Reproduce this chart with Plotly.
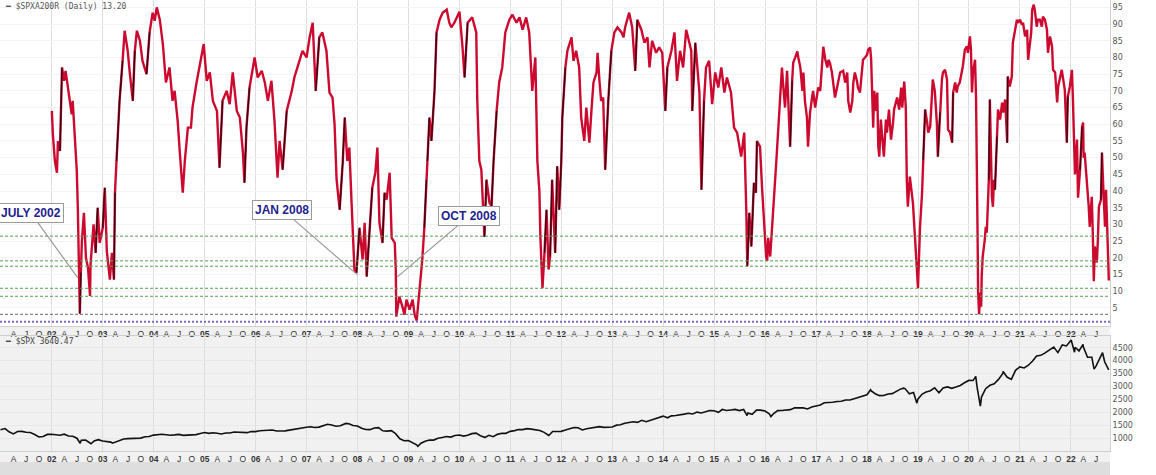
import plotly.graph_objects as go
from plotly.subplots import make_subplots
import pandas as pd

# ---------------- DATA ----------------
# $SPXA200R (percent of S&P 500 stocks above 200-day MA), time in decimal years
spxa_t = [
 2002.00,2002.02,2002.06,2002.10,2002.12,2002.16,2002.20,2002.24,2002.27,2002.31,2002.35,2002.39,2002.41,2002.45,2002.49,
 2002.51,2002.53,2002.55,2002.57,2002.59,2002.63,2002.67,2002.71,2002.75,2002.76,2002.80,2002.82,2002.86,2002.90,2002.94,
 2003.00,2003.04,2003.08,2003.14,2003.18,2003.22,2003.24,2003.27,2003.33,2003.39,2003.43,2003.47,2003.49,2003.53,2003.59,
 2003.63,2003.67,2003.73,2003.78,2003.86,2003.92,2003.98,
 2004.02,2004.06,2004.12,2004.18,2004.24,2004.31,2004.37,2004.41,2004.47,2004.51,2004.57,2004.61,2004.67,2004.73,2004.76,
 2004.84,2004.90,2004.98,
 2005.04,2005.10,2005.16,2005.24,2005.29,2005.35,2005.43,2005.49,2005.55,2005.63,2005.69,2005.75,2005.78,2005.82,2005.88,2005.98,
 2006.04,2006.12,2006.18,2006.24,2006.31,2006.37,2006.43,2006.47,2006.53,2006.61,2006.71,2006.76,2006.86,2006.92,
 2007.00,2007.06,2007.12,2007.18,2007.25,2007.31,2007.39,2007.45,2007.51,2007.55,2007.59,2007.65,2007.71,2007.75,2007.80,
 2007.84,2007.88,2007.94,2007.98,
 2008.04,2008.10,2008.14,2008.18,2008.24,2008.29,2008.35,2008.39,2008.43,2008.49,2008.53,2008.57,2008.63,2008.67,2008.73,
 2008.75,2008.76,2008.82,2008.88,2008.92,2008.96,
 2009.02,2009.08,2009.12,2009.16,2009.22,2009.27,2009.31,2009.35,2009.37,2009.41,2009.45,2009.51,2009.55,2009.61,2009.67,
 2009.75,2009.80,2009.84,2009.90,
 2010.00,2010.06,2010.10,2010.16,2010.25,2010.33,2010.35,2010.39,2010.43,2010.49,2010.53,2010.59,2010.63,2010.67,2010.73,
 2010.78,2010.84,2010.90,2010.98,
 2011.04,2011.12,2011.18,2011.24,2011.31,2011.37,2011.43,2011.49,2011.53,2011.57,2011.59,2011.63,2011.67,2011.71,2011.75,
 2011.78,2011.82,2011.88,2011.92,2011.96,
 2012.00,2012.02,2012.08,2012.12,2012.20,2012.24,2012.29,2012.35,2012.39,2012.45,2012.49,2012.55,2012.59,2012.63,2012.69,
 2012.71,2012.75,2012.78,2012.82,2012.86,2012.92,2012.98,
 2013.04,2013.10,2013.18,2013.22,2013.25,2013.33,2013.39,2013.45,2013.49,2013.57,2013.63,2013.69,2013.73,2013.78,2013.86,
 2013.92,2013.98,
 2014.04,2014.08,2014.16,2014.22,2014.27,2014.33,2014.39,2014.45,2014.51,2014.55,2014.57,2014.63,2014.71,2014.75,2014.80,
 2014.84,2014.90,2014.96,
 2015.02,2015.08,2015.14,2015.20,2015.25,2015.33,2015.39,2015.45,2015.53,2015.59,2015.63,2015.65,2015.69,2015.73,2015.78,
 2015.82,2015.84,2015.90,2015.94,
 2016.02,2016.04,2016.06,2016.10,2016.14,2016.18,2016.22,2016.25,2016.29,2016.33,2016.35,2016.39,2016.43,2016.45,2016.49,
 2016.53,2016.55,2016.59,2016.63,2016.65,2016.69,2016.73,2016.75,2016.78,2016.82,2016.84,2016.88,2016.92,2016.94,2016.98,
 2017.02,2017.04,2017.08,2017.12,2017.14,2017.18,2017.22,2017.24,2017.27,2017.31,2017.33,2017.37,2017.41,2017.47,2017.53,
 2017.57,2017.61,2017.63,2017.67,2017.71,2017.73,2017.76,2017.80,2017.82,2017.86,2017.90,2017.92,2017.96,
 2018.00,2018.02,2018.06,2018.08,2018.10,2018.12,2018.14,2018.18,2018.20,2018.22,2018.24,2018.27,2018.29,2018.33,2018.37,
 2018.39,2018.43,2018.47,2018.51,2018.53,2018.59,2018.63,2018.67,2018.69,2018.73,2018.76,2018.78,2018.80,2018.84,2018.88,
 2018.90,2018.94,2018.98,
 2019.00,2019.02,2019.04,2019.08,2019.10,2019.14,2019.18,2019.20,2019.24,2019.27,2019.29,2019.33,2019.37,2019.39,2019.43,
 2019.47,2019.49,2019.53,2019.57,2019.59,2019.63,2019.67,2019.69,2019.73,2019.76,2019.78,2019.82,2019.86,2019.88,2019.92,
 2019.96,2019.98,
 2020.02,2020.04,2020.06,2020.08,2020.12,2020.14,2020.16,2020.17,2020.18,2020.20,2020.22,2020.24,2020.25,2020.27,2020.31,
 2020.33,2020.35,2020.37,2020.39,2020.41,2020.43,2020.45,2020.47,2020.49,2020.51,2020.55,2020.57,2020.61,2020.65,2020.67,
 2020.71,2020.75,2020.76,2020.80,2020.84,2020.86,2020.90,2020.94,2020.96,
 2021.00,2021.04,2021.06,2021.10,2021.14,2021.16,2021.18,2021.22,2021.24,2021.27,2021.29,2021.33,2021.35,2021.39,2021.43,
 2021.45,2021.49,2021.53,2021.55,2021.59,2021.63,2021.65,2021.69,2021.73,2021.75,2021.78,2021.82,2021.84,2021.88,2021.92,
 2021.94,2021.98,
 2022.02,2022.04,2022.06,2022.08,2022.12,2022.14,2022.18,2022.22,2022.24,2022.25,2022.27,2022.31,2022.35,2022.37,2022.41,
 2022.43,2022.45,2022.47,2022.51,2022.53,2022.55,2022.59,2022.61,2022.63,2022.67,2022.69,2022.71,2022.73,2022.745]
spxa_v = [
 64,57,49,45.5,55,52,77,73,76,72,67,63,67,58,46,
 35,20,3.3,15.6,25,33.5,20,17,8.6,18,26,30,21.5,35,24.5,
 29,41,22,13.5,21.5,13.5,39.5,49,67,79,88,84,82,75.5,67,
 82,88,85,79,75,87.5,93.4,
 91,95,91.3,84,72.5,77,67,70,61,52,39.5,49,59,59,65,
 72.5,78,84,
 73,75.5,67,64,47,67,70,66,75.5,64,62,51.5,42.5,59,71,80,
 74,76,72.5,67,73,61,44,55,46.4,64,70,74,79,82,
 80,86,90.4,70,86,87.5,82,69.5,68,60,43.4,34.4,48.5,62,49,
 53,38,16.5,15.6,
 29,19.5,30.5,14.4,29,41,45.5,53,30.5,24.5,39.5,37.4,45.5,26,24.5,
 16.5,2.4,8.4,5.4,3,7.5,
 4.5,7.5,3,1.2,11.4,19.5,29,43.4,49,62,55,70,87.5,91.3,93.4,
 94.3,90.4,89,90.4,
 93.7,83,74,90.4,92,87.5,67,49,46.4,26.3,43.4,36.5,35.5,49,64,
 72.5,77,87.5,91.3,
 92.8,90.4,92,88.3,92,87.5,70,80,49,40,26,10.9,21.5,34.4,16.5,
 20.4,43.4,21.5,47.4,34.4,
 49,62,77,82,86,79,82,77,62,55,65,54.5,64,72.5,75.5,
 81.4,72.5,67,68,46.4,67,82,
 87.5,89,87.5,86,89,93.4,89,76,91.3,88.3,84.4,86,77,85,81.4,
 83,81.4,
 64,77,82,87.5,73,82,77,88.3,85,82,64,84.4,69.5,40.4,67,
 77,79,66,
 75.5,71,77,69.5,74,69.5,59,57.5,50.3,57.5,34.4,17.5,33.5,23.4,42.5,
 39.5,55,53.3,41,
 20.4,19.1,26,20.4,31.4,39.5,49,57.5,67,77,72.5,65,76,68,53.3,
 73,78.4,80,81.8,80,77,70,75.5,67,62,53.3,63.5,68,70,65,
 70,71,70,79.3,83.2,79.3,77,79.3,78.4,75.5,73,68,71,75.5,76,
 72.5,75.5,67,63.5,67,72.5,75.5,73,71,69.5,77,79.3,80,
 80.8,82.3,83,79.3,67,59,70,64,69.5,53.3,50.3,61.4,57.5,50.3,61.4,
 57.5,64.4,55.4,60.5,64.4,68,64.4,71,65,72.8,65,43.4,35.3,44.3,39.5,
 36.5,26.3,14.4,
 10.9,20.4,29.3,39.5,49.4,64.4,60.5,57.5,59.3,71,73.4,70,60.5,50.3,63.5,
 73.4,75.5,76.3,73.4,58.4,57.5,54.5,69.5,72.5,69.5,71.3,72.5,75.5,77.3,82.3,
 83.3,81.4,
 86.3,82.3,69.5,75.5,79.3,67.4,47.4,26.3,9.6,3.1,9.6,5.4,14.4,20.4,25.4,
 29.3,27.5,34.4,43.4,67.4,49.4,38.3,35.3,43.4,40.4,56.3,64.4,61.4,66.5,63.5,
 67.4,54.5,74.3,71.3,74.3,84.4,88.3,91.3,90.4,
 91.3,89.8,90.4,86.3,88.3,79.3,82.3,87.4,94.3,95.8,94.3,89.2,91.3,91.3,89.2,
 92.2,91.3,88.3,81.4,86.3,83.3,76.3,75.5,66.5,71.3,73.4,76.3,74.3,70.4,54.5,
 68.3,71.3,
 76.3,67.4,52.4,45,55.4,38,46.4,59.3,60.5,50,51.5,44.3,35.3,29.3,38.3,
 27.5,13,23.4,18.6,25.4,35.3,37.4,51.5,43.4,29.3,40.4,29.3,15.6,13.2]

# Reference lows marked with horizontal lines
green_levels = [26.5, 19.1, 17.5, 10.9, 8.5]
gray_level = 3.1
purple_level = 0.9

# $SPX month-end closes, Jan 2001 .. Aug 2022
spx_monthly = [
 1366,1240,1160,1249,1256,1224,1211,1134,1041,1060,1139,1148,
 1130,1107,1147,1077,1067,990,912,916,815,886,936,880,
 856,841,848,917,964,975,990,1008,996,1051,1058,1112,
 1131,1145,1126,1107,1121,1141,1102,1104,1115,1130,1174,1212,
 1181,1204,1181,1157,1192,1191,1234,1220,1229,1207,1249,1248,
 1280,1281,1295,1311,1270,1270,1277,1304,1336,1378,1401,1418,
 1438,1407,1421,1482,1531,1503,1455,1474,1527,1549,1481,1468,
 1379,1331,1323,1386,1400,1280,1267,1283,1166,969,896,903,
 826,735,798,873,919,919,987,1021,1057,1036,1096,1115,
 1074,1104,1169,1187,1089,1031,1102,1049,1141,1183,1181,1258,
 1286,1327,1326,1364,1345,1321,1292,1219,1131,1253,1247,1258,
 1312,1366,1408,1398,1310,1362,1379,1407,1441,1412,1416,1426,
 1498,1515,1569,1598,1631,1606,1686,1633,1682,1757,1806,1848,
 1783,1859,1872,1884,1924,1960,1931,2003,1972,2018,2068,2059,
 1995,2105,2068,2086,2107,2063,2104,1972,1920,2079,2080,2044,
 1940,1932,2060,2065,2097,2099,2174,2171,2168,2126,2199,2239,
 2279,2364,2363,2384,2412,2423,2470,2472,2519,2575,2648,2674,
 2824,2714,2641,2648,2705,2718,2816,2902,2914,2712,2760,2507,
 2704,2784,2834,2946,2752,2942,2980,2926,2977,3038,3141,3231,
 3226,2954,2585,2912,3044,3100,3271,3500,3363,3270,3622,3756,
 3714,3811,3973,4181,4204,4298,4395,4523,4308,4605,4567,4766,
 4516,4374,4530,4132,4132,3785,4130,3955]
spx_extra_dates = ['2000-12-29','2002-07-23','2002-10-09','2003-03-11','2007-10-09','2009-03-09',
                   '2010-07-02','2011-10-03','2015-08-25','2016-02-11','2018-01-26','2018-09-20',
                   '2018-12-24','2020-02-19','2020-03-23','2020-09-02','2022-01-03','2022-01-27',
                   '2022-03-29','2022-06-16','2022-08-16','2022-09-29']
spx_extra_vals = [1320,797,777,800,1565,677,1022,1099,1867,1829,2873,2931,
                  2351,3386,2237,3580,4797,4326,4631,3667,4305,3640.47]

annot_text = ['JULY 2002', 'JAN 2008', 'OCT 2008']
annot_x = [2002.51, 2008.00, 2008.78]
annot_y = [14.0, 14.9, 14.3]

# ---------------- HELPERS ----------------
def dec2date(t):
    y = int(t)
    a = pd.Timestamp(year=y, month=1, day=1)
    b = pd.Timestamp(year=y + 1, month=1, day=1)
    return a + (b - a) * (t - y)

spxa_d = [dec2date(t) for t in spxa_t]

spx_df = pd.DataFrame({
    'd': list(pd.date_range('2001-01-31', periods=len(spx_monthly), freq='ME')) + list(pd.to_datetime(spx_extra_dates)),
    'v': spx_monthly + spx_extra_vals}).sort_values('d')

RED = '#cc0a30'

fig = make_subplots(rows=2, cols=1, shared_xaxes=False, vertical_spacing=0.0)

# background shapes first (so hlines added later are kept)
fig.update_layout(shapes=[
    dict(type='rect', xref='paper', yref='paper', x0=0, x1=1, y0=0, y1=1 - 462 / 475,
         fillcolor='#dedede', line=dict(width=0), layer='below'),
    dict(type='rect', xref='paper', yref='paper', x0=0, x1=1, y0=1 - 462 / 475, y1=1 - 326 / 475,
         fillcolor='#f1f1f1', line=dict(width=0), layer='below')])

fig.add_trace(go.Scatter(x=spxa_d, y=spxa_v, mode='lines',
                         line=dict(color=RED, width=2.4), hoverinfo='skip', showlegend=False), row=1, col=1)
# darker strokes on strong up-moves
bx, by = [], []
for i in range(len(spxa_v) - 1):
    if spxa_v[i + 1] - spxa_v[i] >= 12:
        bx += [spxa_d[i], spxa_d[i + 1], None]
        by += [spxa_v[i], spxa_v[i + 1], None]
fig.add_trace(go.Scatter(x=bx, y=by, mode='lines', line=dict(color='#2a0a10', width=1.3),
                         hoverinfo='skip', showlegend=False), row=1, col=1)

fig.add_trace(go.Scatter(x=spx_df['d'], y=spx_df['v'], mode='lines',
                         line=dict(color='#111111', width=1.6), hoverinfo='skip', showlegend=False), row=2, col=1)

for lv in green_levels:
    fig.add_hline(y=lv, line=dict(color='#56a050', width=1, dash='3px,2px'), row=1, col=1)
fig.add_hline(y=gray_level, line=dict(color='#6a6a6a', width=1, dash='3px,2px'), row=1, col=1)
fig.add_hline(y=purple_level, line=dict(color='#7a6cc8', width=2, dash='2px,2px'), row=1, col=1)

# x ticks: quarters with year labels
tickvals, ticktext = [], []
for y in range(2001, 2023):
    for m, lab in [(1, None), (4, 'A'), (7, 'J'), (10, 'O')]:
        d = pd.Timestamp(year=y, month=m, day=1)
        if d > pd.Timestamp('2022-09-30'):
            continue
        tickvals.append(d)
        ticktext.append('<b>%02d</b>' % (y % 100) if lab is None else lab)

xr = [dec2date(2000.982), dec2date(2022.768)]
xcommon = dict(range=xr, tickmode='array', tickvals=tickvals, ticktext=ticktext, automargin=False,
               showgrid=False, ticks='', ticklen=0,
               tickfont=dict(family='Liberation Sans, Arial', size=8.5, color='#333333'),
               minor=dict(tickmode='linear', tick0='2001-01-01', dtick='M12', showgrid=True,
                          gridcolor='#dddddd', gridwidth=1, ticks=''),
               showline=True, linecolor='#cfcfcf', linewidth=1, mirror=True, zeroline=False)

fig.update_xaxes(**xcommon, row=1, col=1)
fig.update_xaxes(**xcommon, row=2, col=1)

fig.update_yaxes(row=1, col=1, domain=[1 - 326 / 475, 1.0], range=[-0.4, 97.2], side='right', automargin=False,
                 tickmode='array', tickvals=list(range(5, 100, 5)),
                 tickfont=dict(family='DejaVu Sans', size=8, color='#555555'),
                 showgrid=True, gridcolor='#f3f3f3', zeroline=False,
                 showline=True, linecolor='#cfcfcf', mirror=True, ticks='')
fig.update_yaxes(row=2, col=1, domain=[1 - 451 / 475, 1 - 336 / 475], range=[496, 4953], side='right', automargin=False,
                 tickmode='array', tickvals=list(range(1000, 5000, 500)),
                 tickfont=dict(family='DejaVu Sans', size=8, color='#555555'),
                 showgrid=True, gridcolor='#e8e8e8', zeroline=False,
                 showline=True, linecolor='#cfcfcf', mirror=True, ticks='')

anns = []
offs = [(-47, -65), (-75, -65), (72, -61)]
for txt, ax_, ay_, (dx, dy) in zip(annot_text, annot_x, annot_y, offs):
    anns.append(dict(x=dec2date(ax_), y=ay_, xref='x', yref='y', text='<b>%s</b>' % txt,
                     showarrow=True, arrowhead=0, arrowwidth=1.2, arrowcolor='#9a9a9a',
                     ax=dx, ay=dy, bgcolor='white', bordercolor='#9a9a9a', borderwidth=1, borderpad=2,
                     font=dict(family='Liberation Sans, Arial', size=12, color='#1f1f8f')))
anns.append(dict(x=0.003, y=1.0, xref='paper', yref='paper', xanchor='left', yanchor='top',
                 text='<b>━</b> $SPXA200R (Daily) 13.20', showarrow=False,
                 font=dict(family='DejaVu Sans Mono', size=8, color='#555555')))
anns.append(dict(x=0.003, y=1 - 335 / 475, xref='paper', yref='paper', xanchor='left', yanchor='top',
                 text='<b>━</b> $SPX 3640.47', showarrow=False,
                 font=dict(family='DejaVu Sans Mono', size=8, color='#444444')))

fig.update_layout(width=1156, height=475, margin=dict(l=0, r=46, t=0, b=0),
                  paper_bgcolor='white', plot_bgcolor='rgba(0,0,0,0)',
                  annotations=anns, showlegend=False)

fig.write_html('out.html', config={'displayModeBar': False},
               post_script="document.body.style.margin='0';document.body.style.overflow='hidden';")
